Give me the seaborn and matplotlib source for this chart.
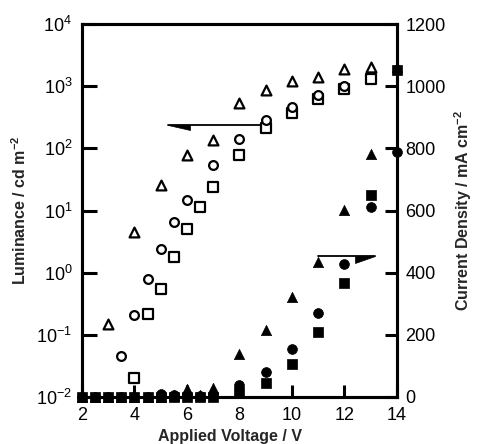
import matplotlib
matplotlib.use('Agg')
import matplotlib.pyplot as plt
import seaborn as sns
import numpy as np

# luminance (open symbols, left log axis)
v_tri_open = [3, 4, 5, 6, 7, 8, 9, 10, 11, 12, 13]
lum_tri = [0.15, 4.5, 26, 78, 136, 540, 870, 1230, 1420, 1870, 2050]

v_cir_open = [3.5, 4, 4.5, 5, 5.5, 6, 7, 8, 9, 10, 11, 12]
lum_cir = [0.046, 0.21, 0.78, 2.4, 6.5, 14.7, 54, 140, 286, 468, 720, 1000]

v_sq_open = [4, 4.5, 5, 5.5, 6, 6.5, 7, 8, 9, 10, 11, 12, 13]
lum_sq = [0.02, 0.22, 0.54, 1.77, 5.0, 11.5, 24, 78, 210, 366, 622, 890, 1290]

# current density (filled symbols, right linear axis)
v_fill = [2, 2.5, 3, 3.5, 4, 4.5, 5, 5.5, 6, 6.5, 7, 8, 9, 10, 11, 12, 13, 14]
j_sq = [0, 0, 0, 0, 0, 0, 0, 0, 0, 0, 0, 15, 46, 106, 210, 366, 650, 1052]
j_cir = [0, 0, 0, 0, 0, 0, 8, 6, 6, 4, 5, 39, 81, 154, 269, 428, 610, 789]
j_tri = [0, 0, 0, 0, 0, 0, 0, 5, 25, 6, 28, 138, 216, 323, 435, 602, 782, 1063]

sns.set_theme(style='ticks')
plt.rcParams['font.family'] = ['Liberation Sans', 'DejaVu Sans']
plt.rcParams['mathtext.fontset'] = 'custom'
plt.rcParams['mathtext.rm'] = 'Liberation Sans'
plt.rcParams['mathtext.it'] = 'Liberation Sans'
plt.rcParams['mathtext.bf'] = 'Liberation Sans:bold'
plt.rcParams['mathtext.default'] = 'regular'

fig = plt.figure(figsize=(4.78, 4.44), dpi=100)
ax = fig.add_axes([0.1715, 0.1059, 0.659, 0.84])
ax2 = ax.twinx()

negro = 'black'
ms = 50
lw_open = 1.6

sns.scatterplot(x=v_tri_open, y=lum_tri, marker='^', s=ms, facecolor='white',
                edgecolor=negro, linewidth=lw_open, ax=ax, clip_on=False, zorder=3)
sns.scatterplot(x=v_sq_open, y=lum_sq, marker='s', s=ms, facecolor='white',
                edgecolor=negro, linewidth=lw_open, ax=ax, clip_on=False, zorder=3)
sns.scatterplot(x=v_cir_open, y=lum_cir, marker='o', s=ms * 0.8, facecolor='white',
                edgecolor=negro, linewidth=lw_open, ax=ax, clip_on=False, zorder=4)

sns.scatterplot(x=v_fill, y=j_tri, marker='^', s=ms * 1.1, color=negro,
                edgecolor=negro, linewidth=0.5, ax=ax2, clip_on=False, zorder=3)
sns.scatterplot(x=v_fill, y=j_sq, marker='s', s=ms, color=negro,
                edgecolor=negro, linewidth=0.5, ax=ax2, clip_on=False, zorder=3)
sns.scatterplot(x=v_fill, y=j_cir, marker='o', s=ms, color=negro,
                edgecolor=negro, linewidth=0.5, ax=ax2, clip_on=False, zorder=4)

ax.set_yscale('log')
ax.set_xlim(2, 14)
ax.set_ylim(1e-2, 1e4)
ax.set_yticks([1e-2, 1e-1, 1e0, 1e1, 1e2, 1e3, 1e4])
ax.yaxis.set_minor_locator(matplotlib.ticker.NullLocator())
ax.set_xticks([2, 4, 6, 8, 10, 12, 14])
ax2.set_ylim(0, 1200)
ax2.set_yticks([0, 200, 400, 600, 800, 1000, 1200])

# arrows pointing to the axes
ax.plot([5.28, 8.86], [237, 237], color=negro, lw=1.3, zorder=2)
ax.fill([5.28, 6.1, 6.1], [237, 237, 200], color=negro, lw=0.5, zorder=2)
ax2.plot([11.0, 13.16], [454, 454], color=negro, lw=1.3, zorder=2)
ax2.fill([13.16, 12.4, 12.4], [454, 454, 432], color=negro, lw=0.5, zorder=2)

for a in (ax, ax2):
    for sp in a.spines.values():
        sp.set_linewidth(2.2)
        sp.set_color(negro)

ax.tick_params(axis='y', which='major', direction='in', length=11, width=2.2,
               labelsize=13, pad=7, colors=negro)
ax.tick_params(axis='x', which='major', direction='in', length=9, width=2.2,
               labelsize=13, pad=7, colors=negro)
ax2.tick_params(axis='y', which='major', direction='in', length=9, width=2.2,
                labelsize=13, pad=6, colors=negro)

ax.set_xlabel('Applied Voltage / V', fontsize=11.5, fontweight='bold', labelpad=-1)
ax.xaxis.set_label_coords(0.47, -0.085)
ax.set_ylabel('Luminance / cd m$^{-2}$', fontsize=11.5, fontweight='bold', labelpad=5)
ax2.set_ylabel('Current Density / mA cm$^{-2}$', fontsize=11.5, fontweight='bold', labelpad=5)

fig.savefig('out.png', dpi=100)
